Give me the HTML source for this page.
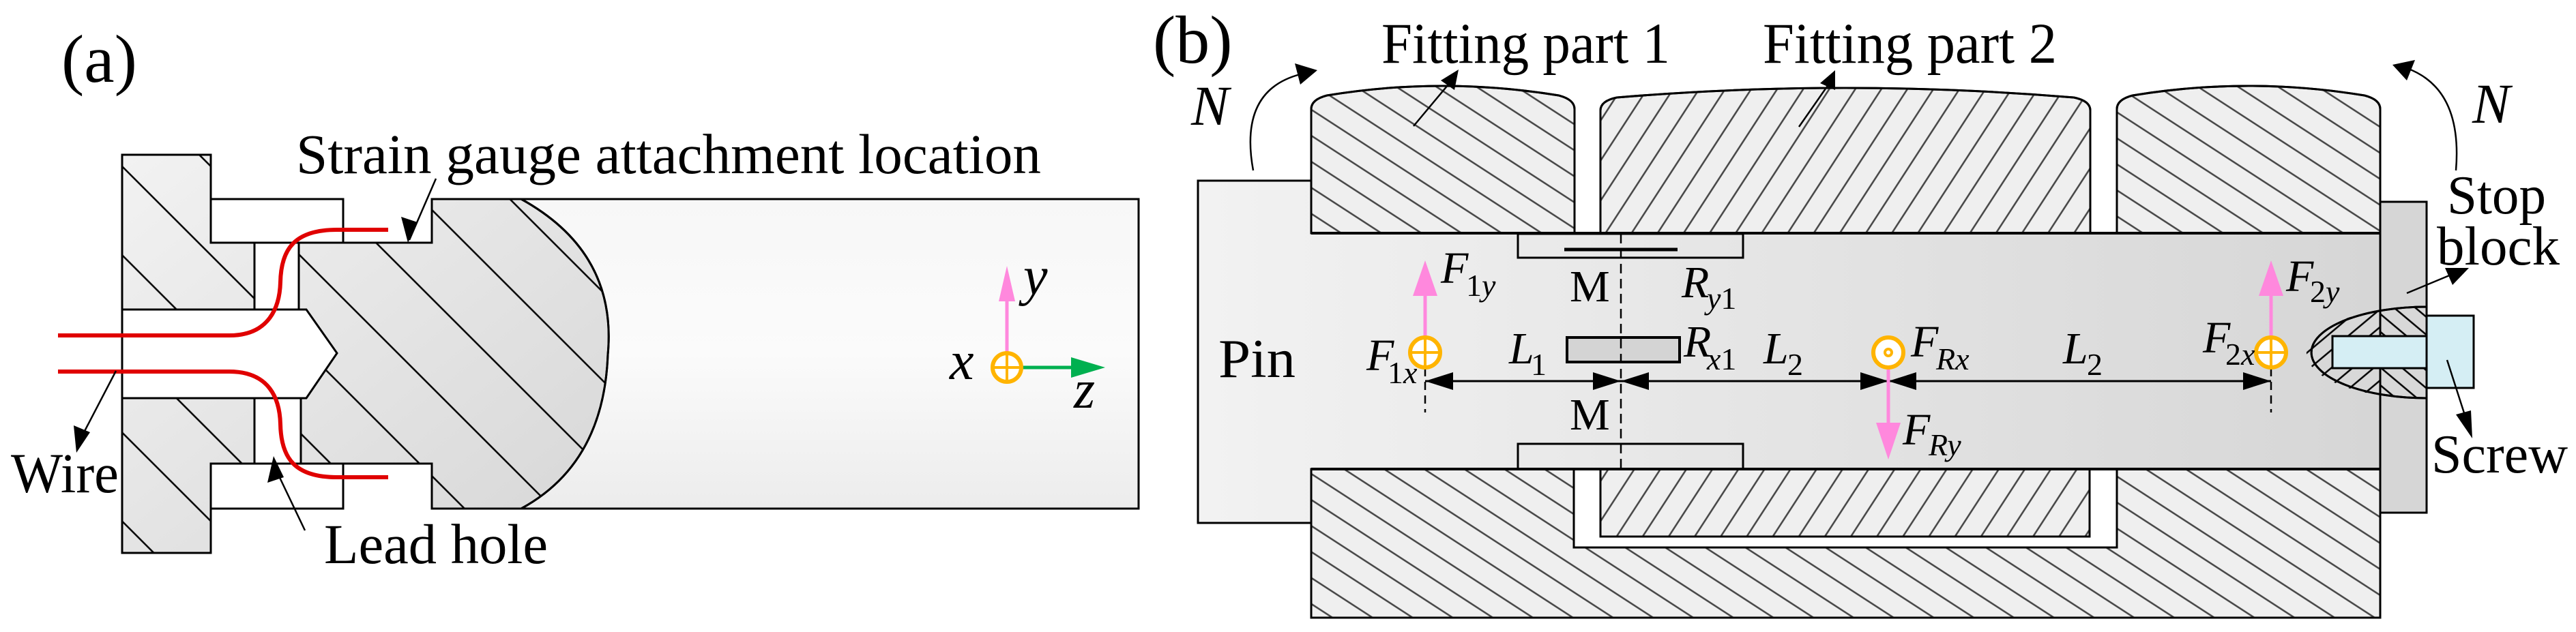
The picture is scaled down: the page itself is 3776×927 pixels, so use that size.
<!DOCTYPE html>
<html><head><meta charset="utf-8"><style>
html,body{margin:0;padding:0;background:#fff;}
svg{display:block;}
svg text{font-family:"Liberation Serif","Times New Roman",Times,"DejaVu Serif",serif;fill:#000;}
.it{font-style:italic;}
</style></head><body>
<svg width="3776" height="927" viewBox="0 0 3776 927" xmlns="http://www.w3.org/2000/svg" font-family="Liberation Serif, Times New Roman, serif">
<defs>
<pattern id="ha" patternUnits="userSpaceOnUse" width="92" height="92" patternTransform="rotate(45)">
<line x1="0" y1="46" x2="92" y2="46" stroke="#000" stroke-width="2.5"/></pattern>
<pattern id="hb" patternUnits="userSpaceOnUse" width="40" height="32" patternTransform="rotate(33)">
<line x1="0" y1="16" x2="40" y2="16" stroke="#444" stroke-width="2.5"/></pattern>
<pattern id="hf" patternUnits="userSpaceOnUse" width="40" height="32" patternTransform="rotate(-57)">
<line x1="0" y1="16" x2="40" y2="16" stroke="#444" stroke-width="2.5"/></pattern>
<pattern id="hs1" patternUnits="userSpaceOnUse" width="30" height="20" patternTransform="rotate(-40)">
<line x1="0" y1="10" x2="30" y2="10" stroke="#000" stroke-width="2.5"/></pattern>
<pattern id="hs2" patternUnits="userSpaceOnUse" width="30" height="20" patternTransform="rotate(40)">
<line x1="0" y1="10" x2="30" y2="10" stroke="#000" stroke-width="2.5"/></pattern>
<linearGradient id="ga" x1="0" y1="0" x2="1" y2="1"><stop offset="0" stop-color="#f2f2f2"/><stop offset="1" stop-color="#d6d6d6"/></linearGradient>
<linearGradient id="gr" x1="0" y1="0" x2="0" y2="1"><stop offset="0" stop-color="#f7f7f7"/><stop offset="0.5" stop-color="#fbfbfb"/><stop offset="1" stop-color="#ececec"/></linearGradient>
<linearGradient id="gp" x1="0" y1="0" x2="1" y2="0"><stop offset="0" stop-color="#f2f2f2"/><stop offset="1" stop-color="#d6d6d6"/></linearGradient>
</defs>

<!-- ===== Panel (a) ===== -->
<text x="90" y="120" font-size="100">(a)</text>
<rect x="633" y="292" width="1036" height="454" fill="url(#gr)" stroke="#000" stroke-width="3"/>
<g stroke="#000" stroke-width="3">
<path d="M179,227 H309 V356 H633 V292 H764 Q905,370 891,520 Q885,680 764,746 H633 V680 H309 V811 H179 Z" fill="url(#ga)"/>
<path d="M179,227 H309 V356 H633 V292 H764 Q905,370 891,520 Q885,680 764,746 H633 V680 H309 V811 H179 Z" fill="url(#ha)"/>
<rect x="309" y="292" width="194" height="64" fill="#fff"/>
<rect x="309" y="680" width="194" height="66" fill="#fff"/>
<rect x="373" y="356" width="65" height="98" fill="#fff"/>
<rect x="373" y="584" width="68" height="96" fill="#fff"/>
<path d="M179,454 H449 L494,518 L449,584 H179 Z" fill="#fff"/>
</g>
<line x1="764" y1="292" x2="1669" y2="292" stroke="#000" stroke-width="3"/>
<line x1="764" y1="746" x2="1669" y2="746" stroke="#000" stroke-width="3"/>
<g fill="none" stroke="#e00000" stroke-width="6">
<path d="M85,492 H336 C395,492 410,450 411,414 C412,365 432,337 494,337 H569"/>
<path d="M85,545 H336 C395,545 410,585 411,622 C412,672 432,700 494,700 H569"/>
</g>
<line x1="639" y1="262" x2="600" y2="352" stroke="#000" stroke-width="2.5"/>
<path d="M598,356 L588,318 L612,326 Z" fill="#000"/>
<line x1="170" y1="544" x2="120" y2="640" stroke="#000" stroke-width="2.5"/>
<path d="M112,664 L108,624 L132,634 Z" fill="#000"/>
<line x1="447" y1="778" x2="405" y2="690" stroke="#000" stroke-width="2.5"/>
<path d="M401,669 L392,708 L416,700 Z" fill="#000"/>
<text x="434" y="254" font-size="83" textLength="1092" lengthAdjust="spacingAndGlyphs">Strain gauge attachment location</text>
<text x="16" y="722" font-size="83" textLength="158" lengthAdjust="spacingAndGlyphs">Wire</text>
<text x="475" y="826" font-size="83" textLength="328" lengthAdjust="spacingAndGlyphs">Lead hole</text>
<line x1="1476" y1="517" x2="1476" y2="440" stroke="#ff88dd" stroke-width="5"/>
<path d="M1476,390 L1464,442 L1488,442 Z" fill="#ff88dd"/>
<line x1="1498" y1="539" x2="1575" y2="539" stroke="#00b050" stroke-width="5"/>
<path d="M1620,539 L1570,524 L1570,554 Z" fill="#00b050"/>
<circle cx="1476" cy="539" r="21" fill="#fff" stroke="#ffb400" stroke-width="6"/>
<line x1="1455" y1="539" x2="1497" y2="539" stroke="#ffb400" stroke-width="4"/>
<line x1="1476" y1="518" x2="1476" y2="560" stroke="#ffb400" stroke-width="4"/>
<text x="1392" y="556" font-size="80" class="it">x</text>
<text x="1500" y="432" font-size="80" class="it">y</text>
<text x="1574" y="598" font-size="80" class="it">z</text>

<!-- ===== Panel (b) ===== -->
<text x="1690" y="92" font-size="100">(b)</text>
<path d="M1756,265 H1922 V342 H3489 V688 H1922 V767 H1756 Z" fill="url(#gp)" stroke="#000" stroke-width="3"/>
<g stroke="#000" stroke-width="3">
<path d="M1922,342 V160 Q1922,146 1945,140 Q2114,112 2285,140 Q2308,146 2308,160 V342 Z" fill="#efefef"/>
<path d="M1922,342 V160 Q1922,146 1945,140 Q2114,112 2285,140 Q2308,146 2308,160 V342 Z" fill="url(#hb)"/>
<path d="M2346,342 V162 Q2346,148 2370,143 Q2705,115 3040,143 Q3064,148 3064,162 V342 Z" fill="#efefef"/>
<path d="M2346,342 V162 Q2346,148 2370,143 Q2705,115 3040,143 Q3064,148 3064,162 V342 Z" fill="url(#hf)"/>
<path d="M3103,342 V160 Q3103,146 3126,140 Q3295,112 3466,140 Q3489,146 3489,160 V342 Z" fill="#efefef"/>
<path d="M3103,342 V160 Q3103,146 3126,140 Q3295,112 3466,140 Q3489,146 3489,160 V342 Z" fill="url(#hb)"/>
<path d="M1922,688 H2307 V803 H3103 V688 H3489 V906 H1922 Z" fill="#efefef"/>
<path d="M1922,688 H2307 V803 H3103 V688 H3489 V906 H1922 Z" fill="url(#hb)"/>
<rect x="2346" y="688" width="717" height="99" fill="#efefef"/>
<rect x="2346" y="688" width="717" height="99" fill="url(#hf)"/>
</g>
<line x1="1922" y1="342" x2="3489" y2="342" stroke="#000" stroke-width="4"/>
<line x1="1922" y1="688" x2="3489" y2="688" stroke="#000" stroke-width="4"/>
<rect x="3489" y="296" width="68" height="456" fill="#d6d6d6" stroke="#000" stroke-width="3"/>
<path d="M3557,450 A169,67 0 0 0 3557,584 Z" fill="#d8d8d8" stroke="#000" stroke-width="3"/>
<path d="M3489,455 A169,67 0 0 0 3489,580 L3489,455 Z" fill="url(#hs1)"/>
<path d="M3557,450 A169,67 0 0 0 3489,455 L3489,580 A169,67 0 0 0 3557,584 Z" fill="url(#hs2)"/>
<path d="M3557,450 A169,67 0 0 0 3557,584" fill="none" stroke="#000" stroke-width="3"/>
<line x1="3489" y1="450" x2="3489" y2="590" stroke="#000" stroke-width="3"/>
<rect x="3419" y="493" width="138" height="47" fill="#d5eef4" stroke="#000" stroke-width="3"/>
<rect x="3557" y="463" width="69" height="106" fill="#d5eef4" stroke="#000" stroke-width="3"/>
<rect x="2225" y="343" width="330" height="35" fill="none" stroke="#000" stroke-width="3"/>
<line x1="2293" y1="366" x2="2459" y2="366" stroke="#000" stroke-width="5"/>
<rect x="2225" y="651" width="330" height="37" fill="none" stroke="#000" stroke-width="3"/>
<rect x="2297" y="495" width="165" height="36" fill="#d4d4d4" stroke="#000" stroke-width="4"/>
<line x1="2376" y1="343" x2="2376" y2="688" stroke="#000" stroke-width="2.5" stroke-dasharray="14,8"/>
<line x1="2089" y1="540" x2="2089" y2="605" stroke="#000" stroke-width="2.5" stroke-dasharray="12,8"/>
<line x1="3329" y1="540" x2="3329" y2="605" stroke="#000" stroke-width="2.5" stroke-dasharray="12,8"/>
<line x1="2089" y1="559" x2="3329" y2="559" stroke="#000" stroke-width="3"/>
<g fill="#000">
<path d="M2089,559 L2130,546 L2130,572 Z"/>
<path d="M2376,559 L2335,546 L2335,572 Z"/>
<path d="M2376,559 L2417,546 L2417,572 Z"/>
<path d="M2768,559 L2727,546 L2727,572 Z"/>
<path d="M2768,559 L2809,546 L2809,572 Z"/>
<path d="M3329,559 L3288,546 L3288,572 Z"/>
</g>
<line x1="2089" y1="495" x2="2089" y2="430" stroke="#ff88dd" stroke-width="5"/>
<path d="M2089,382 L2071,434 L2107,434 Z" fill="#ff88dd"/>
<line x1="3329" y1="495" x2="3329" y2="430" stroke="#ff88dd" stroke-width="5"/>
<path d="M3329,382 L3311,434 L3347,434 Z" fill="#ff88dd"/>
<line x1="2768" y1="540" x2="2768" y2="622" stroke="#ff88dd" stroke-width="5"/>
<path d="M2768,674 L2750,620 L2786,620 Z" fill="#ff88dd"/>
<g stroke="#ffb400" fill="#fff">
<circle cx="2089" cy="517" r="22" stroke-width="6"/>
<circle cx="3329" cy="517" r="22" stroke-width="6"/>
<circle cx="2768" cy="517" r="22" stroke-width="6"/>
<line x1="2067" y1="517" x2="2111" y2="517" stroke-width="4"/>
<line x1="2089" y1="495" x2="2089" y2="539" stroke-width="4"/>
<line x1="3307" y1="517" x2="3351" y2="517" stroke-width="4"/>
<line x1="3329" y1="495" x2="3329" y2="539" stroke-width="4"/>
<circle cx="2768" cy="517" r="5" stroke-width="4"/>
</g>
<text x="2112" y="415" font-size="66" class="it">F</text><text x="2149" y="434" font-size="46">1<tspan class="it">y</tspan></text>
<text x="2301" y="442" font-size="66">M</text>
<text x="2465" y="436" font-size="66" class="it">R</text><text x="2502" y="453" font-size="46"><tspan class="it">y</tspan>1</text>
<text x="2003" y="543" font-size="66" class="it">F</text><text x="2034" y="562" font-size="46">1<tspan class="it">x</tspan></text>
<text x="2212" y="533" font-size="66" class="it">L</text><text x="2244" y="550" font-size="46">1</text>
<text x="2468" y="523" font-size="66" class="it">R</text><text x="2502" y="542" font-size="46"><tspan class="it">x</tspan>1</text>
<text x="2585" y="533" font-size="66" class="it">L</text><text x="2620" y="550" font-size="46">2</text>
<text x="2801" y="523" font-size="66" class="it">F</text><text x="2838" y="542" font-size="46" class="it">Rx</text>
<text x="3024" y="533" font-size="66" class="it">L</text><text x="3059" y="550" font-size="46">2</text>
<text x="3229" y="517" font-size="66" class="it">F</text><text x="3262" y="535" font-size="46">2<tspan class="it">x</tspan></text>
<text x="3351" y="427" font-size="66" class="it">F</text><text x="3386" y="443" font-size="46">2<tspan class="it">y</tspan></text>
<text x="2301" y="630" font-size="66">M</text>
<text x="2789" y="652" font-size="66" class="it">F</text><text x="2827" y="668" font-size="46" class="it">Ry</text>
<text x="1786" y="553" font-size="80" textLength="113" lengthAdjust="spacingAndGlyphs">Pin</text>
<text x="2025" y="92" font-size="85" textLength="423" lengthAdjust="spacingAndGlyphs">Fitting part 1</text>
<text x="2584" y="92" font-size="85" textLength="431" lengthAdjust="spacingAndGlyphs">Fitting part 2</text>
<text x="1746" y="183" font-size="83" class="it">N</text>
<text x="3624" y="180" font-size="83" class="it">N</text>
<text x="3587" y="313" font-size="80" textLength="145" lengthAdjust="spacingAndGlyphs">Stop</text>
<text x="3572" y="388" font-size="80" textLength="180" lengthAdjust="spacingAndGlyphs">block</text>
<text x="3564" y="693" font-size="80" textLength="200" lengthAdjust="spacingAndGlyphs">Screw</text>
<g stroke="#000" stroke-width="2.5" fill="none">
<path d="M1837,250 Q1815,130 1910,108"/>
<path d="M3600,250 Q3610,130 3528,100"/>
<line x1="2072" y1="185" x2="2128" y2="118"/>
<line x1="2637" y1="186" x2="2683" y2="120"/>
<line x1="3528" y1="430" x2="3600" y2="400"/>
<line x1="3587" y1="528" x2="3615" y2="615"/>
</g>
<g fill="#000">
<path d="M1931,103 L1898,93 L1906,124 Z"/>
<path d="M3507,95 L3540,88 L3528,118 Z"/>
<path d="M2138,102 L2112,118 L2132,132 Z"/>
<path d="M2690,103 L2668,122 L2690,132 Z"/>
<path d="M3619,393 L3584,393 L3595,418 Z"/>
<path d="M3624,643 L3600,608 L3622,602 Z"/>
</g>
</svg>
</body></html>
